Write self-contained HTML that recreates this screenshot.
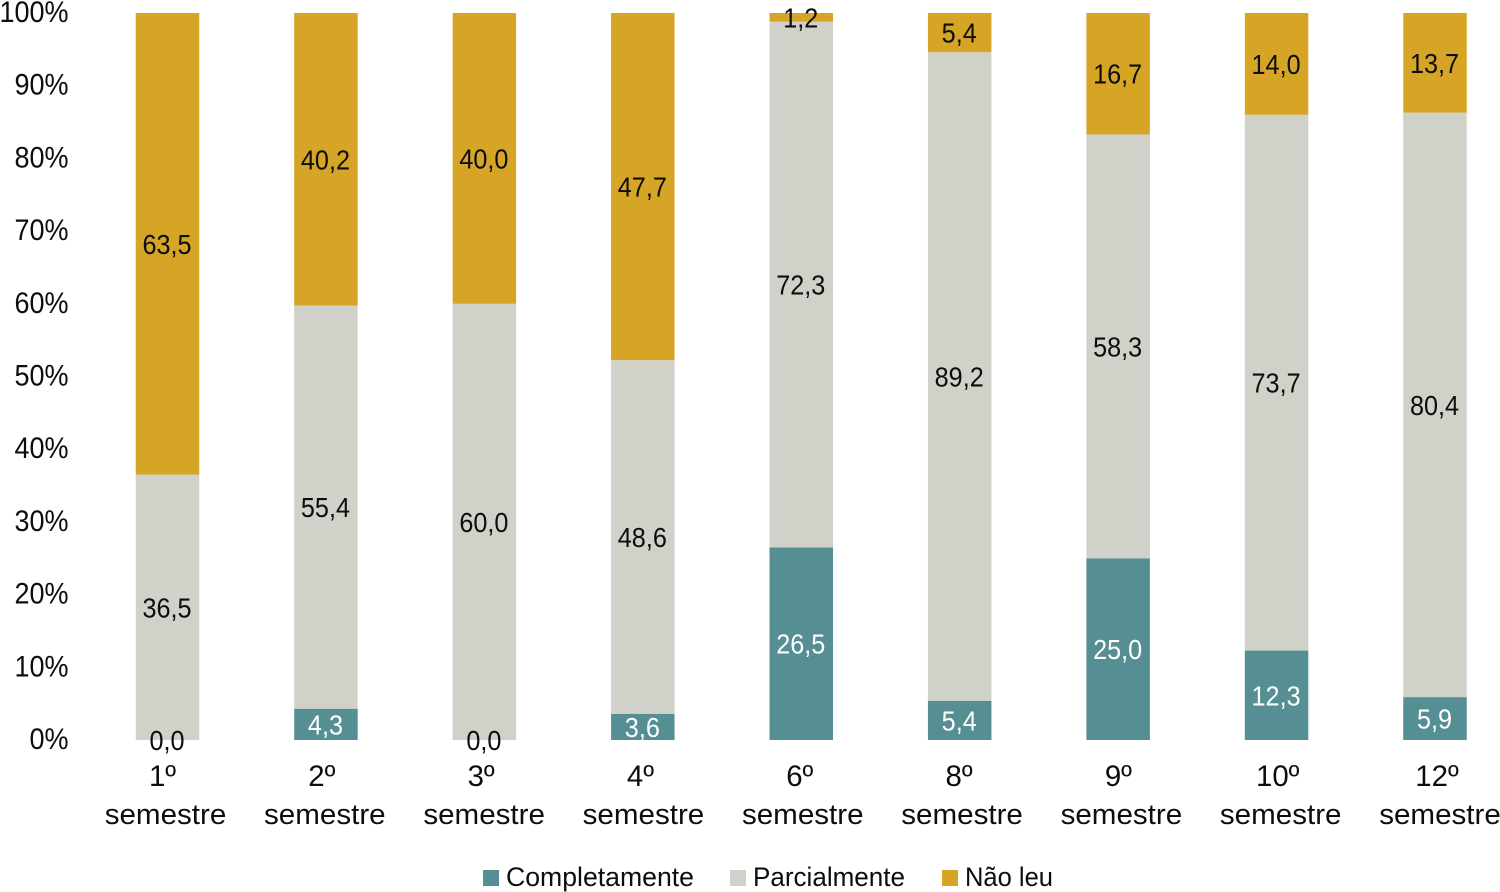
<!DOCTYPE html>
<html lang="pt">
<head>
<meta charset="utf-8">
<title>Leitura por semestre</title>
<style>
html,body{margin:0;padding:0;background:#fff;width:1500px;height:892px;overflow:hidden}
svg{display:block}
text{font-family:"Liberation Sans",sans-serif;fill:#0d0d0d}
</style>
</head>
<body>
<svg id="chart" xmlns="http://www.w3.org/2000/svg" width="1500" height="892" viewBox="0 0 1500 892">
  <g id="y-axis"></g>
  <g id="bars"></g>
  <g id="x-axis"></g>
  <g id="legend">
    <g>
      <rect x="483" y="870" width="16" height="16" fill="#568F93"/>
      <text x="506" y="886" font-size="27" textLength="188" lengthAdjust="spacingAndGlyphs">Completamente</text>
    </g>
    <g>
      <rect x="730" y="870" width="16" height="16" fill="#D0D1C8"/>
      <text x="753" y="886" font-size="27" textLength="152" lengthAdjust="spacingAndGlyphs">Parcialmente</text>
    </g>
    <g>
      <rect x="942" y="870" width="16" height="16" fill="#D7A526"/>
      <text x="965" y="886" font-size="27" textLength="88" lengthAdjust="spacingAndGlyphs">Não leu</text>
    </g>
  </g>
</svg>
<script>
const categories = ['1º','2º','3º','4º','6º','8º','9º','10º','12º'];
const completamente = [0.0,4.3,0.0,3.6,26.5,5.4,25.0,12.3,5.9];
const parcialmente = [36.5,55.4,60.0,48.6,72.3,89.2,58.3,73.7,80.4];
const naoLeu = [63.5,40.2,40.0,47.7,1.2,5.4,16.7,14.0,13.7];
const yTicks = [0,10,20,30,40,50,60,70,80,90,100];

const SVG_NS = 'http://www.w3.org/2000/svg';
const PLOT_BOTTOM = 740, PLOT_TOP = 13;
const BAR_WIDTH = 63.5;

function yScale(pct){ return PLOT_BOTTOM - (PLOT_BOTTOM - PLOT_TOP) * pct / 100; }
function xScale(i){ return 167.5 + i * (1435 - 167.5) / (categories.length - 1); }
function xLabelScale(i){ return 165.5 + i * (1440 - 165.5) / (categories.length - 1); }
function fmt(v){ return v.toFixed(1).replace('.', ','); }

function makeText(str, x, y, size, anchor, sx, fill){
  const t = document.createElementNS(SVG_NS, 'text');
  t.setAttribute('transform', 'translate(' + x + ',' + y + ') scale(' + sx + ',1)');
  t.setAttribute('font-size', size);
  t.setAttribute('text-anchor', anchor);
  if (fill) t.style.fill = fill;
  t.textContent = str;
  return t;
}

const yAxis = document.getElementById('y-axis');
yTicks.forEach(function(tick){
  const t = makeText(tick + '%', 68.5, yScale(tick) + 9, 30, 'end', 0.9);
  
  
  yAxis.appendChild(t);
});

const seriesList = [
  {key:'completamente', values:completamente, color:'#568F93', text:'#ffffff'},
  {key:'parcialmente', values:parcialmente, color:'#D0D1C8', text:'#0d0d0d'},
  {key:'nao-leu', values:naoLeu, color:'#D7A526', text:'#0d0d0d'}
];

const barsGroup = document.getElementById('bars');
const labelsLayer = [];
categories.forEach(function(cat, i){
  const total = seriesList.reduce(function(s, se){ return s + se.values[i]; }, 0);
  let cum = 0;
  seriesList.forEach(function(se){
    const v = se.values[i];
    const pct = total ? v / total * 100 : 0;
    const y0 = yScale(cum), y1 = yScale(cum + pct);
    const r = document.createElementNS(SVG_NS, 'rect');
    r.setAttribute('x', xScale(i) - BAR_WIDTH / 2);
    r.setAttribute('y', y1);
    r.setAttribute('width', BAR_WIDTH);
    r.setAttribute('height', Math.max(0, y0 - y1));
    r.setAttribute('fill', se.color);
    
    
    barsGroup.appendChild(r);
    const zero = v === 0;
    const lab = makeText(fmt(v), xScale(i) - 0.5, (y0 + y1) / 2 + 10, 28, 'middle', 0.9, zero ? '#0d0d0d' : se.text);
    
    
    if (!(zero && se.key === 'nao-leu')) labelsLayer.push(lab);
    cum += pct;
  });
});
labelsLayer.forEach(function(l){ barsGroup.appendChild(l); });

const xAxis = document.getElementById('x-axis');
categories.forEach(function(cat, i){
  const a = makeText(cat, xLabelScale(i) - 3, 786, 30, 'middle', 0.98);
  
  
  xAxis.appendChild(a);
  const b = makeText('semestre', xLabelScale(i), 824, 29, 'middle', 1.02);
  
  
  xAxis.appendChild(b);
});
</script>
</body>
</html>
